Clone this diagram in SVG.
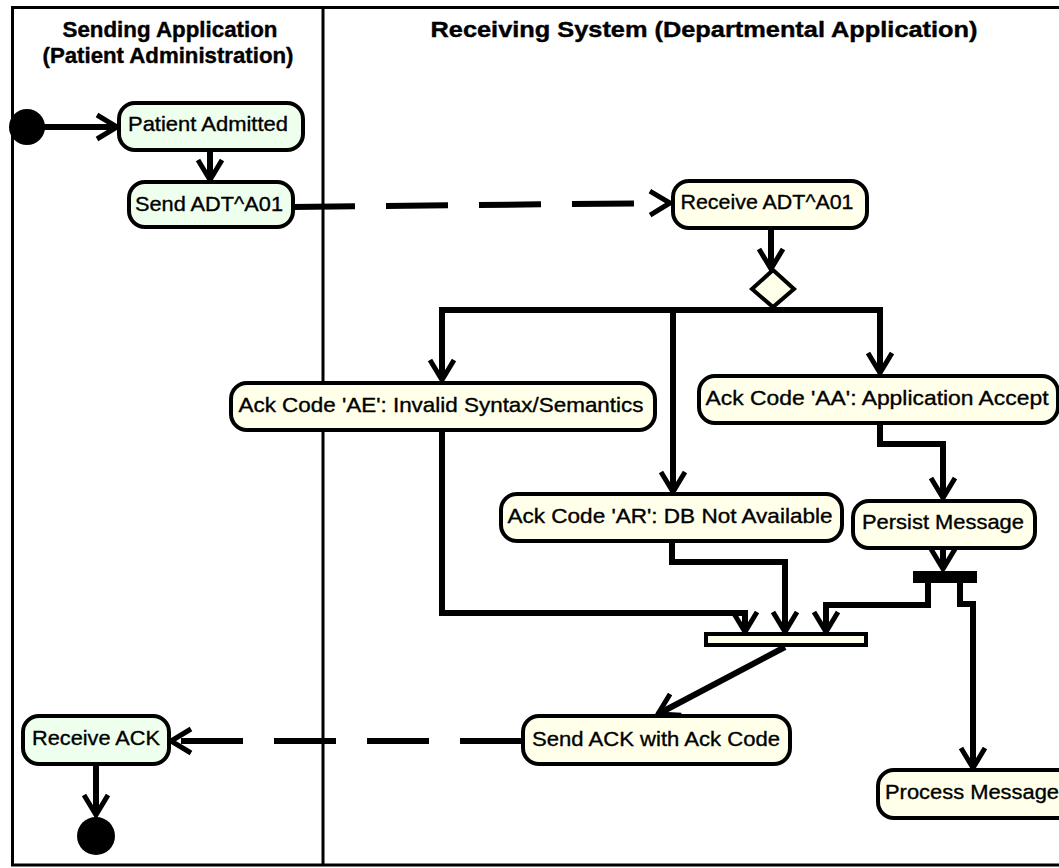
<svg xmlns="http://www.w3.org/2000/svg" width="1059" height="868" viewBox="0 0 1059 868">
<style>
.frame{fill:none;stroke:#000;stroke-width:3}
.g{fill:#EEFFEE;stroke:#000;stroke-width:4}
.y{fill:#FFFFEA;stroke:#000;stroke-width:4}
.lbl{font-family:"Liberation Sans",Arial,sans-serif;font-size:21px;fill:#000;stroke:#000;stroke-width:0.35;text-anchor:middle}
.hdr{font-family:"Liberation Sans",Arial,sans-serif;font-size:22px;font-weight:bold;fill:#000;stroke:#000;stroke-width:0.4;text-anchor:middle}
.c{fill:none;stroke:#000;stroke-width:6;marker-end:url(#arr)}
.d{fill:none;stroke:#000;stroke-width:6;stroke-dasharray:62 31;marker-end:url(#arr)}
</style>
<defs>
<marker id="arr" viewBox="-24 -15 27 30" refX="0" refY="0" markerWidth="27" markerHeight="30" markerUnits="userSpaceOnUse" orient="auto" overflow="visible">
<path d="M-20,-12 L0,0 L-20,12" fill="none" stroke="#000" stroke-width="5"/>
</marker>
</defs>
<rect width="1059" height="868" fill="#fff"/>
<g id="lanes">
<path class="frame" d="M1062,7.5 H12.5 V865 H1062"/>
<line class="frame" x1="323" y1="7.5" x2="323" y2="865"/>
<text class="hdr" x="170" y="37" textLength="215" lengthAdjust="spacingAndGlyphs">Sending Application</text>
<text class="hdr" x="168" y="63" textLength="251" lengthAdjust="spacingAndGlyphs">(Patient Administration)</text>
<text class="hdr" x="704" y="37" textLength="547" lengthAdjust="spacingAndGlyphs">Receiving System (Departmental Application)</text>
</g>
<g id="connectors">
<line class="c" x1="44" y1="127" x2="117" y2="127"/>
<line class="c" x1="210" y1="150" x2="210" y2="180"/>
<line class="d" x1="293" y1="207" x2="670" y2="203"/>
<line class="c" x1="771" y1="228" x2="771" y2="269"/>
<path class="c" d="M773,306 V310 H442 V380"/>
<path class="c" d="M773,310 H673 V492"/>
<path class="c" d="M773,310 H880 V373"/>
<path class="c" d="M880,423 V444 H943 V498"/>
<line class="c" x1="943" y1="548" x2="943" y2="569"/>
<path class="c" d="M928,583 V605 H826 V632"/>
<path class="c" d="M960,583 V604 H973 V768"/>
<path class="c" d="M442,430 V613 H745 V632"/>
<path class="c" d="M672,541 V562 H785 V632"/>
<line class="c" x1="785" y1="647" x2="658" y2="714"/>
<line class="d" x1="522" y1="741" x2="171" y2="741"/>
<line class="c" x1="96" y1="764" x2="96" y2="815"/>
</g>
<g id="start"><circle cx="27" cy="127" r="18" fill="#000"/></g>
<g id="patient-admitted">
<rect class="g" x="119" y="103" width="184" height="47" rx="16"/>
<text class="lbl" x="208" y="131" textLength="160" lengthAdjust="spacingAndGlyphs">Patient Admitted</text>
</g>
<g id="send-adt">
<rect class="g" x="129" y="182" width="164" height="45" rx="16"/>
<text class="lbl" x="209" y="211" textLength="148" lengthAdjust="spacingAndGlyphs">Send ADT^A01</text>
</g>
<g id="receive-adt">
<rect class="y" x="673" y="181" width="194" height="47" rx="16"/>
<text class="lbl" x="767" y="209" textLength="173" lengthAdjust="spacingAndGlyphs">Receive ADT^A01</text>
</g>
<g id="decision">
<polygon points="773,270 794,289 773,307 752,289" fill="#FFFFEA" stroke="#000" stroke-width="4"/>
</g>
<g id="ack-ae">
<rect class="y" x="231" y="383" width="424" height="47" rx="16"/>
<text class="lbl" x="441" y="412" textLength="405" lengthAdjust="spacingAndGlyphs">Ack Code 'AE': Invalid Syntax/Semantics</text>
</g>
<g id="ack-aa">
<rect class="y" x="699" y="376" width="359" height="47" rx="16"/>
<text class="lbl" x="877" y="405" textLength="343" lengthAdjust="spacingAndGlyphs">Ack Code 'AA': Application Accept</text>
</g>
<g id="ack-ar">
<rect class="y" x="501" y="494" width="341" height="47" rx="16"/>
<text class="lbl" x="670" y="523" textLength="325" lengthAdjust="spacingAndGlyphs">Ack Code 'AR': DB Not Available</text>
</g>
<g id="persist">
<rect class="y" x="853" y="501" width="182" height="47" rx="16"/>
<text class="lbl" x="943" y="529" textLength="162" lengthAdjust="spacingAndGlyphs">Persist Message</text>
</g>
<g id="fork"><rect x="913" y="571" width="64" height="12" fill="#000"/></g>
<g id="join"><rect x="706" y="634" width="160" height="11" fill="#FFFFEA" stroke="#000" stroke-width="4"/></g>
<g id="send-ack">
<rect class="y" x="523" y="716" width="267" height="48" rx="16"/>
<text class="lbl" x="656" y="746" textLength="248" lengthAdjust="spacingAndGlyphs">Send ACK with Ack Code</text>
</g>
<g id="process">
<rect class="y" x="878" y="770" width="200" height="48" rx="16"/>
<text class="lbl" x="885" y="799" textLength="174" lengthAdjust="spacingAndGlyphs" style="text-anchor:start">Process Message</text>
</g>
<g id="receive-ack">
<rect class="g" x="23" y="716" width="146" height="48" rx="16"/>
<text class="lbl" x="96" y="745" textLength="128" lengthAdjust="spacingAndGlyphs">Receive ACK</text>
</g>
<g id="end"><circle cx="96" cy="836" r="19" fill="#000"/></g>
</svg>
